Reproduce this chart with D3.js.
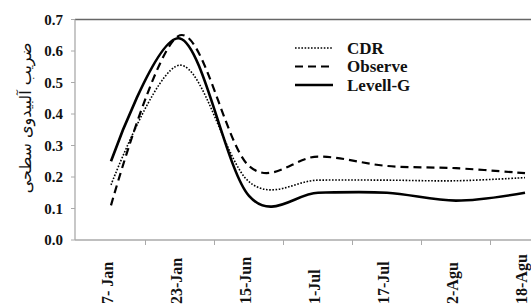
<!DOCTYPE html>
<html>
<head>
<meta charset="utf-8">
<script src="https://cdn.jsdelivr.net/npm/d3@7"></script>
<style>
body{margin:0;background:#fff;overflow:hidden}
svg{display:block}
.lbl{font-family:'Liberation Serif','Times New Roman','DejaVu Serif',serif;font-weight:bold;fill:#111}
</style>
</head>
<body>
<svg id="chart"></svg>
<script>
const width=531, height=308;

const dates=['7- Jan','23-Jan','15-Jun','1-Jul','17-Jul','2-Agu','18-Agu'];
const cdr=[0.175,0.555,0.185,0.19,0.19,0.188,0.198];
const observe=[0.11,0.65,0.235,0.265,0.235,0.228,0.212];
const levelG=[0.25,0.64,0.14,0.15,0.15,0.125,0.15];
const yTicks=[0,0.1,0.2,0.3,0.4,0.5,0.6,0.7];

const series=[
  {name:'CDR',values:cdr,dash:'1.6,1.6',w:1.6},
  {name:'Observe',values:observe,dash:'8,5',w:2.2},
  {name:'Levell-G',values:levelG,dash:null,w:2.6}
];

const svg=d3.select('#chart').attr('width',width).attr('height',height);

// plot runs past the right edge, like the cropped original
const x=d3.scaleBand().domain(dates).range([76.5,76.5+7*69]);
const y=d3.scaleLinear().domain([0,0.7]).range([240,19.5]);

// frame
svg.append('line').attr('x1',75).attr('x2',width).attr('y1',y(0.7)).attr('y2',y(0.7))
  .attr('stroke','#666').attr('stroke-width',1.3);
svg.append('line').attr('x1',75).attr('x2',75).attr('y1',y(0.7)).attr('y2',y(0))
  .attr('stroke','#aaa').attr('stroke-width',1.3);
svg.append('line').attr('x1',75).attr('x2',width).attr('y1',y(0)).attr('y2',y(0))
  .attr('stroke','#aaa').attr('stroke-width',1.3);

// y axis
const gy=svg.append('g');
gy.selectAll('line').data(yTicks).enter().append('line')
  .attr('x1',71).attr('x2',75).attr('y1',d=>y(d)).attr('y2',d=>y(d))
  .attr('stroke','#aaa');
gy.selectAll('text').data(yTicks).enter().append('text')
  .attr('class','lbl')
  .attr('x',63).attr('y',d=>y(d)+5)
  .attr('text-anchor','end').style('font-size','15px')
  .text(d=>d.toFixed(1));

// x axis ticks between categories
const gx=svg.append('g');
gx.selectAll('line').data(dates.slice(1)).enter().append('line')
  .attr('x1',d=>x(d)).attr('x2',d=>x(d)).attr('y1',240).attr('y2',245)
  .attr('stroke','#aaa');
gx.selectAll('text').data(dates).enter().append('text')
  .attr('class','lbl')
  .attr('transform',d=>'translate('+(x(d)+x.bandwidth()/2+2)+',304) rotate(-90)')
  .attr('text-anchor','start').style('font-size','16px')
  .text(d=>d);

// y title
svg.append('text')
  .attr('transform','translate(31,118) rotate(-90)')
  .attr('text-anchor','middle')
  .attr('direction','rtl')
  .style('font-family',"'DejaVu Sans',sans-serif")
  .style('font-size','16px').attr('fill','#111')
  .text('ضریب آلبیدوی سطحی');

// lines
const line=d3.line()
  .x((d,i)=>x(dates[i])+x.bandwidth()/2)
  .y(d=>y(d))
  .curve(d3.curveCardinal.tension(0));

series.forEach(s=>{
  svg.append('path').datum(s.values)
    .attr('d',line).attr('fill','none')
    .attr('stroke','#000').attr('stroke-width',s.w)
    .attr('stroke-dasharray',s.dash);
});

// legend
const lg=svg.append('g').selectAll('g').data(series).enter().append('g')
  .attr('transform',(d,i)=>'translate(295,'+(48+i*18.5)+')');
lg.append('line').attr('x1',0).attr('x2',38).attr('y1',0).attr('y2',0)
  .attr('stroke','#000').attr('stroke-width',d=>d.w)
  .attr('stroke-dasharray',d=>d.dash);
lg.append('text').attr('class','lbl').attr('x',52).attr('y',5.5)
  .style('font-size','17px')
  .text(d=>d.name);
</script>
</body>
</html>
